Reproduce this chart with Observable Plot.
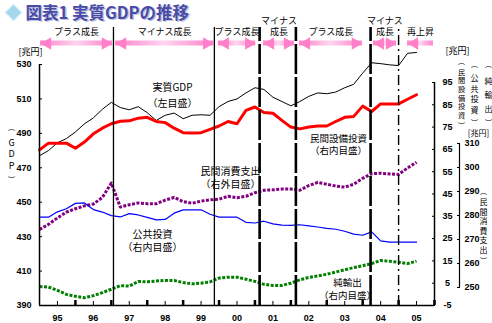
<!DOCTYPE html>
<html><head><meta charset="utf-8">
<script src="https://cdn.jsdelivr.net/npm/d3@7"></script>
<script src="https://cdn.jsdelivr.net/npm/@observablehq/plot@0.6"></script>
<style>
html,body{margin:0;padding:0;background:#fff;}
#chart svg{display:block;}
</style></head><body><div id="chart"></div>
<script>
// ---- data (quarterly, trillion yen) ----
const periods = [
  "1995Q1","1995Q2","1995Q3","1995Q4","1996Q1","1996Q2","1996Q3","1996Q4",
  "1997Q1","1997Q2","1997Q3","1997Q4","1998Q1","1998Q2","1998Q3","1998Q4",
  "1999Q1","1999Q2","1999Q3","1999Q4","2000Q1","2000Q2","2000Q3","2000Q4",
  "2001Q1","2001Q2","2001Q3","2001Q4","2002Q1","2002Q2","2002Q3","2002Q4",
  "2003Q1","2003Q2","2003Q3","2003Q4","2004Q1","2004Q2","2004Q3","2004Q4",
  "2005Q1","2005Q2","2005Q3"];
// 実質GDP (left scale)
const gdp = [477,480,484.5,487,490.8,495.5,499,504,508,505,503.7,505.5,502,497.5,500.5,501.8,498.5,500.5,500.8,500.5,505.5,508.5,510,513.5,516.5,515.5,511,508.5,506,508.5,511.5,513.5,513,514,516.5,518.5,525,531,530.5,529.8,529.4,536.5,537];
// 民間設備投資 (right inner scale)
const capex = [64.8,67.8,67.8,67.8,65.5,68.3,72,74.5,76.5,77.6,77.8,79,79.4,77.5,77,74.5,72.5,72.3,72.5,74,75.5,77.5,76.5,82.5,84,81.5,81.2,78,75,74.2,75,75.5,75.5,77.5,79.4,79.8,84.4,82,85.4,85.4,85.4,87.5,89.5];
// 民間消費支出 (right outer scale)
const consumption = [274.2,276.3,279,281.4,282.8,284,284.8,287.5,293.5,283.5,284.5,285.2,284.9,284.9,286.4,287.5,285.8,285.1,286,286.5,286.8,288,287.4,288,289.5,290.5,290.7,291,291,290.5,292.5,293.8,293,292.3,291.8,293,295.5,297.4,297.6,297.3,297.1,299.8,302.2];
// 公共投資 (right inner scale)
const publicInv = [34.6,34.6,37,38.4,40.8,41,38,36.9,35.3,34.7,36.2,35.6,34.5,33.4,33.6,36.4,37.9,37.9,37.9,35.9,34.6,34.6,34.6,32.3,32,32.8,31.6,31,30.9,31.2,30.7,30.2,29.6,29.2,28.3,27,26.5,28,24,23.4,23.4,23.4,23.4];
// 純輸出 (right inner scale)
const netExports = [3.5,3.3,1.8,0,-0.9,-1.5,-0.6,0.8,2.3,3.9,3.7,5.8,5.6,6,6.2,6.2,5.3,4.7,5,5.6,7.3,7.7,7.7,6.8,5.8,4.5,4,4,5,6.5,7.6,8.3,9,10,11,12,12.8,13.8,15.2,14.8,14.4,13.8,14.9];

const leftTicks = [390,410,430,450,470,490,510,530];
const innerTicks = [-5,5,15,25,35,45,55,65,75,85,95];
const outerTicks = [250,260,270,280,290,300,310];
const yearLabels = ["95","96","97","98","99","00","01","02","03","04","05"];
const yearCenters = [1995.5,1996.5,1997.5,1998.5,1999.5,2000.5,2001.5,2002.5,2003.5,2004.5,2005.5];
const yearBounds = [1996,1997,1998,1999,2000,2001,2002,2003,2004,2005,2006];

// business-cycle turning points and growth phases
const cycleTurns = [1997.06, 1999.87, 2001.13, 2002.14, 2004.22, 2005.0];
const phaseLabels = ["プラス成長","マイナス成長","プラス成長","マイナス\n成長","プラス成長","マイナス\n成長","再上昇"];
const phaseFrom = [1995.03, 1997.12, 1999.98, 2001.24, 2002.24, 2004.30, 2005.25];
const phaseTo   = [1997.03, 1999.85, 2001.02, 2002.10, 2003.99, 2004.94, 2005.97];

const titleText = "図表1 実質GDPの推移";

// ---- helpers ----
const toYear = p => +p.slice(0, 4) + (+p.slice(5) - 1) / 4;
// secondary axes expressed in left-axis units
const inner = v => 390 + (v + 5) * 1.2955;
const innerInv = y => (y - 390) / 1.2955 - 5;
const outer = v => 400.46 + (v - 250) * 1.3942;
const outerInv = y => (y - 400.46) / 1.3942 + 250;

const rows = periods.map((p, i) => ({
  t: toYear(p), gdp: gdp[i], capex: capex[i], cons: consumption[i], pub: publicInv[i], nx: netExports[i]
}));

const ML = 39, MT = 64;
const JP = "'Noto Sans CJK JP', 'Noto Sans', sans-serif";
const NUM = "Arial, 'Liberation Sans', sans-serif";
const note = (str, px, py, opts = {}) => Plot.text([str], {
  text: d => d, frameAnchor: "top-left", dx: px - ML, dy: py - MT,
  textAnchor: "middle", lineAnchor: "middle", fontSize: 10, fill: "#000", fontFamily: JP, ...opts
});
// vertical caption: brackets + stacked characters
const vcol = (chars, px, top, bottom, fs, lh) => [
  note("︵", px, top, {fontSize: 7, lineAnchor: "top"}),
  note(chars.split("").join("\n"), px, (top + bottom) / 2, {fontSize: fs, lineHeight: lh}),
  note("︶", px, bottom, {fontSize: 7, lineAnchor: "bottom"})
];

const ARROW_Y = 542.2, ARROW_H = 1.45, LABEL_Y = 547, TOP_Y = 551.5;
const phaseIdx = d3.range(phaseLabels.length);
const bothHeads = phaseIdx.slice(0, 6);

const gradient = () => {
  const defs = d3.create("svg:defs");
  const g = defs.append("linearGradient").attr("id", "pinkGrad")
    .attr("x1", "0").attr("x2", "1").attr("y1", "0").attr("y2", "0");
  g.append("stop").attr("offset", "0%").attr("stop-color", "#ff80c8");
  g.append("stop").attr("offset", "50%").attr("stop-color", "#ffd4f1");
  g.append("stop").attr("offset", "100%").attr("stop-color", "#ff80c8");
  return defs.node();
};

const chart = Plot.plot({
  width: 492, height: 323,
  marginLeft: ML, marginRight: 58, marginTop: MT, marginBottom: 18,
  x: {domain: [1995, 2006], axis: null},
  y: {domain: [390, 530], axis: null},
  style: {fontFamily: JP, background: "#fff", color: "#000"},
  marks: [
    gradient,
    // growth phase arrows
    Plot.rect(phaseIdx, {x1: i => phaseFrom[i], x2: i => phaseTo[i], y1: ARROW_Y - ARROW_H, y2: ARROW_Y + ARROW_H, fill: "url(#pinkGrad)"}),
    Plot.dot(bothHeads, {x: i => phaseTo[i], y: ARROW_Y, symbol: "triangle", r: 4.6, rotate: 90, dx: -7, fill: "#ff80c8", stroke: null}),
    Plot.dot(phaseIdx, {x: i => phaseFrom[i], y: ARROW_Y, symbol: "triangle", r: 4.6, rotate: -90, dx: 7, fill: "#ff80c8", stroke: null}),
    Plot.text(phaseIdx, {x: i => (phaseFrom[i] + phaseTo[i]) / 2, y: LABEL_Y, text: i => phaseLabels[i], lineAnchor: "bottom", fontSize: 9, lineHeight: 1.3, fill: "#000"}),

    // series
    Plot.line(rows, {x: "t", y: "gdp", stroke: "#000", strokeWidth: 1}),
    Plot.line(rows, {x: "t", y: d => inner(d.capex), stroke: "#ff0000", strokeWidth: 3}),
    Plot.line(rows, {x: "t", y: d => outer(d.cons), stroke: "#800080", strokeWidth: 3, strokeDasharray: "3,1.5", strokeLinecap: "butt"}),
    Plot.line(rows, {x: "t", y: d => inner(d.pub), stroke: "#0000ff", strokeWidth: 1.2}),
    Plot.line(rows, {x: "t", y: d => inner(d.nx), stroke: "#008000", strokeWidth: 3, strokeDasharray: "3,1.5", strokeLinecap: "butt"}),

    // turning-point lines
    Plot.ruleX(cycleTurns.slice(0, 2), {y1: 390, y2: TOP_Y, stroke: "#000", strokeWidth: 1.3}),
    Plot.ruleX(cycleTurns.slice(2, 5), {y1: 390, y2: TOP_Y, stroke: "#000", strokeWidth: 2.6, strokeDasharray: "30,3"}),
    Plot.ruleX(cycleTurns.slice(5), {y1: 390, y2: TOP_Y, stroke: "#000", strokeWidth: 1.4, strokeDasharray: "10,4,2,4"}),

    // axes lines
    Plot.ruleX([1995], {stroke: "#000", strokeWidth: 1.5}),
    Plot.ruleY([390], {stroke: "#000", strokeWidth: 1.5}),
    Plot.ruleX([2006], {y1: inner(-5), y2: inner(95), stroke: "#000", strokeWidth: 1.5}),
    Plot.ruleX([2006], {y1: outer(250), y2: outer(310), dx: 25, stroke: "#000", strokeWidth: 1.2}),

    // axes ticks and labels
    Plot.axisY(leftTicks, {anchor: "left", tickSize: -3, tickPadding: 11, label: null, tickFormat: d => String(d), fontWeight: "bold", fontSize: 9, fontFamily: NUM}),
    Plot.axisY(innerTicks.map(inner), {anchor: "right", tickSize: -3, tickPadding: 16, textAnchor: "middle", label: null, tickFormat: d => String(Math.round(innerInv(d))), fontWeight: "bold", fontSize: 9, fontFamily: NUM}),
    Plot.axisY(outerTicks.map(outer), {anchor: "right", dx: 25, tickSize: -3, tickPadding: 8, label: null, tickFormat: d => String(Math.round(outerInv(d))), fontWeight: "bold", fontSize: 9, fontFamily: NUM}),
    Plot.axisX(yearBounds, {anchor: "bottom", tickSize: -5, strokeWidth: 2.5, label: null, tickFormat: () => ""}),
    Plot.axisX(yearCenters, {anchor: "bottom", tickSize: -4, tickPadding: 13, strokeWidth: 1, label: null, tickFormat: (d, i) => yearLabels[i], fontWeight: "bold", fontSize: 9, fontFamily: NUM}),

    // unit and axis titles
    note("[兆円]", 30, 52, {fontSize: 9}),
    note("[兆円]", 457, 51, {fontSize: 9}),
    note("[兆円]", 478, 133, {fontSize: 8}),
    ...vcol("GDP", 11, 125, 181, 9, 1.3),
    ...vcol("民間設備投資", 461, 59, 127, 7.2, 1.2),
    ...vcol("公共投資", 474, 62, 124, 8, 1.35),
    ...vcol("純輸出", 488, 62, 124, 8, 1.75),
    ...vcol("民間消費支出", 483, 189, 262, 8, 1.2),

    // series annotations
    note("実質GDP\n（左目盛）", 172, 93.5, {lineHeight: 1.6}),
    note("民間設備投資\n（右内目盛）", 338, 143.5, {fontSize: 9.5, lineHeight: 1.3}),
    note("民間消費支出\n（右外目盛）", 230, 176.5, {lineHeight: 1.35}),
    note("公共投資\n（右内目盛）", 152, 239.5, {lineHeight: 1.35}),
    note("純輸出\n（右内目盛）", 347, 288, {fontSize: 9.5, lineHeight: 1.3}),

    // title
    Plot.dot([0], {frameAnchor: "top-left", dx: 13 - ML, dy: 12 - MT, symbol: "square", rotate: 45, r: 6.6, fill: "#a4d8ef", stroke: "#d2eefa", strokeWidth: 1}),
    note(titleText, 26.5, 14.5, {textAnchor: "start", fontSize: 16.5, fontWeight: "bold", fill: "#c0c6dc"}),
    note(titleText, 25, 13, {textAnchor: "start", fontSize: 16.5, fontWeight: "bold", fill: "#4a4aa8"})
  ]
});
document.getElementById("chart").appendChild(chart);
</script></body></html>
